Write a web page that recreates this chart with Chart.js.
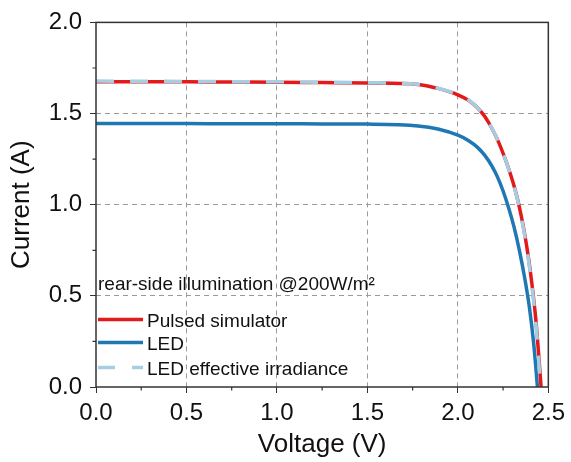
<!DOCTYPE html>
<html><head><meta charset="utf-8">
<script src="https://cdn.jsdelivr.net/npm/chart.js@4"></script>
<style>html,body{margin:0;padding:0;background:#fff}</style>
</head><body>
<canvas id="c" width="571" height="462"></canvas>
<script>
// ---- data ----
const pulsedV = [0, 0.25, 0.5, 0.75, 1.0, 1.25, 1.5, 1.78, 1.89, 2.0, 2.06, 2.11, 2.15, 2.19, 2.225, 2.26, 2.29, 2.31, 2.33, 2.35, 2.37, 2.39, 2.41, 2.43, 2.445, 2.46];
const pulsedI = [1.675, 1.675, 1.674, 1.673, 1.672, 1.670, 1.668, 1.660, 1.638, 1.603, 1.572, 1.530, 1.482, 1.415, 1.343, 1.255, 1.170, 1.105, 1.030, 0.940, 0.835, 0.710, 0.560, 0.380, 0.200, 0.0];
const ledV = [0, 0.25, 0.5, 0.75, 1.0, 1.25, 1.5, 1.78, 1.89, 2.0, 2.06, 2.11, 2.15, 2.19, 2.22, 2.25, 2.28, 2.31, 2.34, 2.37, 2.395, 2.42, 2.44];
const ledI = [1.445, 1.445, 1.445, 1.444, 1.444, 1.443, 1.442, 1.432, 1.415, 1.381, 1.351, 1.313, 1.269, 1.209, 1.150, 1.075, 0.985, 0.880, 0.750, 0.595, 0.440, 0.230, 0.0];
const effV = [0, 0.25, 0.5, 0.75, 1.0, 1.25, 1.5, 1.78, 1.89, 2.0, 2.06, 2.11, 2.15, 2.19, 2.225, 2.26, 2.29, 2.31, 2.33, 2.35, 2.37, 2.39, 2.41, 2.43, 2.444, 2.456];
const effI = [1.678, 1.677, 1.676, 1.675, 1.674, 1.672, 1.669, 1.661, 1.639, 1.604, 1.574, 1.531, 1.483, 1.416, 1.344, 1.255, 1.168, 1.102, 1.026, 0.934, 0.827, 0.700, 0.546, 0.362, 0.190, 0.0];
const seriesLabels = ['Pulsed simulator', 'LED', 'LED effective irradiance'];
const legendTitle = 'rear-side illumination @200W/m\u00B2';
const xTitle = 'Voltage (V)';
const yTitle = 'Current (A)';
const xMin = 0, xMax = 2.5, yMin = 0, yMax = 2.0;

const FONT = '"Liberation Sans", Arial, sans-serif';
const colors = ['#E31A1C', '#1F78B4', '#A6CEE3'];
const dashes = [[], [], [18, 16]];

const pts = (V, I) => V.map((v, i) => ({x: v, y: I[i]}));

const isMajor = v => Math.abs(v * 2 - Math.round(v * 2)) < 1e-6;

const framePlugin = {
  id: 'frame',
  afterDraw(chart) {
    const ctx = chart.ctx, a = chart.chartArea;
    const xs = chart.scales.x, ys = chart.scales.y;
    ctx.save();
    ctx.strokeStyle = '#333';
    ctx.lineWidth = 1.5;
    ctx.strokeRect(a.left, a.top, a.right - a.left, a.bottom - a.top);
    // minor ticks (short, outward)
    ctx.lineWidth = 1.2;
    ctx.beginPath();
    for (let v = 0.25; v < xMax; v += 0.5) {
      const px = xs.getPixelForValue(v);
      ctx.moveTo(px, a.bottom); ctx.lineTo(px, a.bottom + 3.5);
    }
    for (let v = 0.25; v < yMax; v += 0.5) {
      const py = ys.getPixelForValue(v);
      ctx.moveTo(a.left, py); ctx.lineTo(a.left - 3.5, py);
    }
    ctx.stroke();
    // legend
    ctx.fillStyle = '#111';
    ctx.font = '19px ' + FONT;
    ctx.textBaseline = 'alphabetic';
    ctx.fillText(legendTitle, a.left + 2, a.bottom - 97);
    const rows = [a.bottom - 67.5, a.bottom - 44.5, a.bottom - 19.5];
    for (let i = 0; i < 3; i++) {
      ctx.save();
      ctx.strokeStyle = colors[i];
      ctx.lineWidth = 3.5;
      ctx.setLineDash(dashes[i].length ? [17, 17] : []);
      ctx.beginPath();
      ctx.moveTo(a.left + 2, rows[i]);
      ctx.lineTo(a.left + 47, rows[i]);
      ctx.stroke();
      ctx.restore();
      ctx.fillText(seriesLabels[i], a.left + 51, rows[i] + 7);
    }
    ctx.restore();
  }
};

const gridColor = c => {
  const v = c.tick ? c.tick.value : 0;
  return (isMajor(v) && v > 1e-6 && v < 2.5 - 1e-6 && !(c.scale.id === 'y' && v > 2 - 1e-6)) ? '#9a9a9a' : 'rgba(0,0,0,0)';
};
const tickColor = c => (c.tick && isMajor(c.tick.value)) ? '#333' : 'rgba(0,0,0,0)';

new Chart(document.getElementById('c'), {
  type: 'line',
  data: {
    datasets: [
      {label: seriesLabels[0], data: pts(pulsedV, pulsedI), borderColor: colors[0], borderWidth: 3.5, order: 1},
      {label: seriesLabels[1], data: pts(ledV, ledI), borderColor: colors[1], borderWidth: 3.5, order: 2},
      {label: seriesLabels[2], data: pts(effV, effI), borderColor: colors[2], borderWidth: 3.5, borderDash: dashes[2], order: 0}
    ]
  },
  options: {
    responsive: false,
    animation: false,
    events: [],
    elements: {point: {radius: 0}, line: {cubicInterpolationMode: 'monotone', fill: false}},
    layout: {padding: {top: 22, right: 22, left: 0, bottom: 0}},
    plugins: {legend: {display: false}, tooltip: {enabled: false}},
    scales: {
      x: {
        type: 'linear', min: xMin, max: xMax,
        afterFit: s => { s.height = 75; },
        ticks: {stepSize: 0.25, autoSkip: false, padding: 6, color: '#111', font: {family: FONT, size: 24},
          callback: v => isMajor(v) ? v.toFixed(1) : ''},
        grid: {color: gridColor, tickColor: tickColor, tickLength: 6, lineWidth: 1},
        border: {display: false, dash: [5, 4]},
        title: {display: true, text: xTitle, color: '#111', font: {family: FONT, size: 26}, padding: {top: 0, bottom: 2}}
      },
      y: {
        type: 'linear', min: yMin, max: yMax,
        afterFit: s => { s.width = 96; },
        ticks: {stepSize: 0.25, autoSkip: false, padding: 8, color: '#111', font: {family: FONT, size: 24},
          callback: v => isMajor(v) ? v.toFixed(1) : ''},
        grid: {color: gridColor, tickColor: tickColor, tickLength: 6, lineWidth: 1},
        border: {display: false, dash: [5, 4]},
        title: {display: true, text: yTitle, color: '#111', font: {family: FONT, size: 26}, padding: {top: 6, bottom: 0}}
      }
    }
  },
  plugins: [framePlugin]
});
</script>
</body></html>
